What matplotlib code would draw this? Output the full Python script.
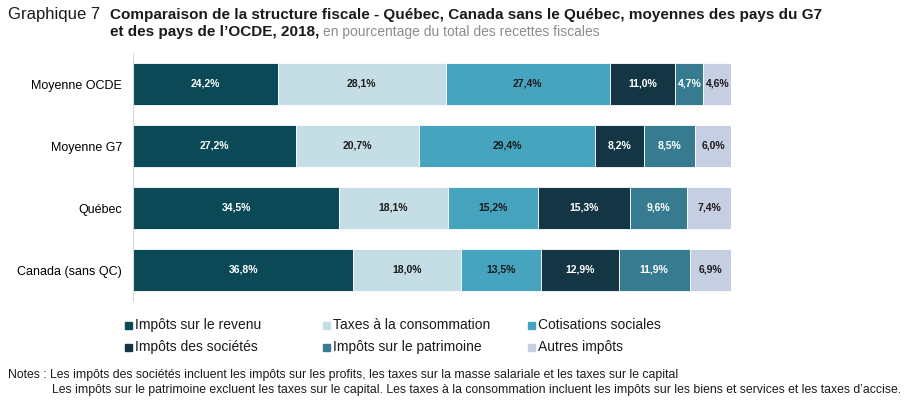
import matplotlib
matplotlib.use("Agg")
import matplotlib.pyplot as plt
from matplotlib.patches import Rectangle

font = "Liberation Sans"

categories = ["Moyenne OCDE", "Moyenne G7", "Québec", "Canada (sans QC)"]
series = ["Impôts sur le revenu", "Taxes à la consommation", "Cotisations sociales",
          "Impôts des sociétés", "Impôts sur le patrimoine", "Autres impôts"]
revenu = [24.2, 27.2, 34.5, 36.8]
consommation = [28.1, 20.7, 18.1, 18.0]
cotisations = [27.4, 29.4, 15.2, 13.5]
societes = [11.0, 8.2, 15.3, 12.9]
patrimoine = [4.7, 8.5, 9.6, 11.9]
autres = [4.6, 6.0, 7.4, 6.9]
values = [revenu, consommation, cotisations, societes, patrimoine, autres]

colors = ["#0b4957", "#c5dde5", "#46a4be", "#143644", "#367b8f", "#c6cee1"]
text_colors = ["white", "#1a1a1a", "#1a1a1a", "white", "white", "#1a1a1a"]

fig = plt.figure(figsize=(9.06, 4.0), dpi=100)
ax = fig.add_axes([133/906, 1-301/400, (731-133)/906, (301-53)/400])

y = list(range(len(categories)))
left = [0.0]*len(categories)
for s, vals in enumerate(values):
    ax.barh(y, vals, left=left, height=0.68, color=colors[s], edgecolor="white", linewidth=0.6)
    for i, v in enumerate(vals):
        ax.text(left[i] + v/2, y[i], f"{v:.1f}%".replace(".", ","), ha="center", va="center",
                fontsize=7.5, fontweight="bold", color=text_colors[s], family=font)
    left = [l + v for l, v in zip(left, vals)]

ax.set_xlim(0, 100)
ax.set_ylim(3.5, -0.5)
ax.set_yticks(y)
ax.set_yticklabels(categories, family=font, fontsize=9)
ax.set_xticks([])
ax.tick_params(axis="y", length=0, pad=8)
for sp in ["top", "right", "bottom"]:
    ax.spines[sp].set_visible(False)
ax.spines["left"].set_color("#d9d9d9")

# Legend
leg_x = [125, 323, 528]
leg_y = [325, 347]
for k, name in enumerate(series):
    r, c = divmod(k, 3)
    x0, y0 = leg_x[c], leg_y[r]
    fig.patches.append(Rectangle((x0/906, 1-(y0+4)/400), 7/906, 7/400, transform=fig.transFigure,
                                 color=colors[k], figure=fig))
    fig.text((x0+10)/906, 1-y0/400, name, ha="left", va="center", fontsize=10, family=font, color="#1a1a1a")

# Titles
fig.text(8/906, 1-15/400, "Graphique 7", ha="left", va="center", fontsize=12, family=font, color="#1a1a1a")
fig.text(110/906, 1-15/400, "Comparaison de la structure fiscale - Québec, Canada sans le Québec, moyennes des pays du G7",
         ha="left", va="center", fontsize=11, family=font, fontweight="bold", color="#1a1a1a")
t = fig.text(110/906, 1-32/400, "et des pays de l\u2019OCDE, 2018,", ha="left", va="center", fontsize=11,
             family=font, fontweight="bold", color="#1a1a1a")
fig.canvas.draw()
bb = t.get_window_extent()
fig.text((bb.x1 + 4)/906, 1-32/400, "en pourcentage du total des recettes fiscales", ha="left", va="center",
         fontsize=10, family=font, color="#8c8c8c")

# Notes
fig.text(8/906, 1-375/400, "Notes : Les impôts des sociétés incluent les impôts sur les profits, les taxes sur la masse salariale et les taxes sur le capital",
         ha="left", va="center", fontsize=8.8, family=font, color="#1a1a1a")
fig.text(52/906, 1-390/400, "Les impôts sur le patrimoine excluent les taxes sur le capital. Les taxes à la consommation incluent les impôts sur les biens et services et les taxes d\u2019accise.",
         ha="left", va="center", fontsize=8.8, family=font, color="#1a1a1a")

fig.savefig("out.png", dpi=100)
